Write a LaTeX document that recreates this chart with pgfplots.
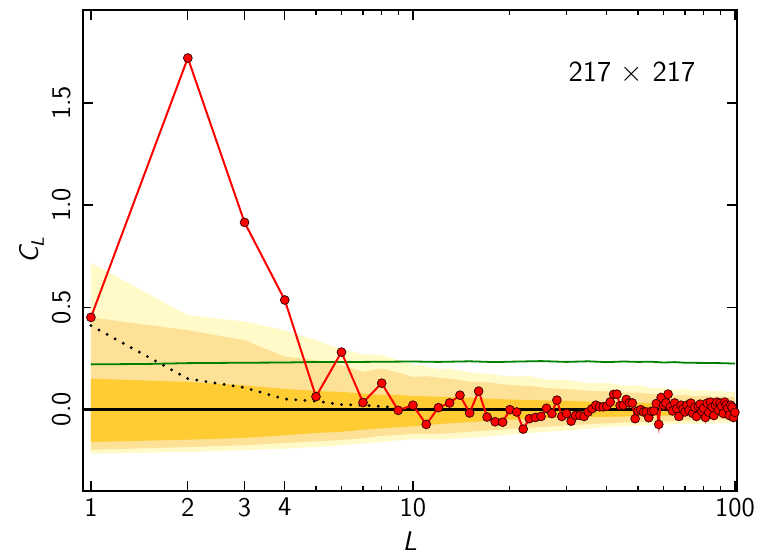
\documentclass[border=0pt]{standalone}
\usepackage{pgfplots}
\pgfplotsset{compat=1.18}
\definecolor{bandL}{RGB}{255,250,200}
\definecolor{bandM}{RGB}{253,225,150}
\definecolor{bandD}{RGB}{255,204,51}
\definecolor{gline}{RGB}{0,128,0}
\begin{document}
\begin{tikzpicture}
\path[use as bounding box] (-41.5pt,-32pt) rectangle (341pt,245.5pt);
\begin{axis}[
  xmode=log, scale only axis, width=327pt, height=240.5pt,
  xmin=0.945, xmax=101.5, ymin=-0.40, ymax=1.955,
  axis line style={line width=1.25pt},
  tick style={black, line width=0.6pt},
  major tick length=5pt, minor tick length=2.5pt, tick align=inside,
  xtick={1,2,3,4,10,100}, xticklabels={1,2,3,4,10,100},
  minor xtick={5,6,7,8,9,20,30,40,50,60,70,80,90},
  ytick={0,0.5,1,1.5}, yticklabels={0.0,0.5,1.0,1.5},
  /pgf/number format/assume math mode=true,
  tick label style={font=\fontsize{13.5}{15}\selectfont\sffamily},
  yticklabel style={xshift=-2.5pt, rotate=90, anchor=south},
  xlabel={\fontsize{13.5}{15}\selectfont\sffamily\itshape L},
  ylabel={\fontsize{13.5}{15}\selectfont\sffamily\itshape C\raisebox{-0.45ex}{\fontsize{9}{10}\selectfont L}},
  xlabel style={at={(axis description cs:0.5,0)}, anchor=north, yshift=-17pt},
  ylabel style={at={(axis description cs:0,0.5)}, anchor=south, rotate=0, yshift=16pt},
  clip=true,
]
% 3-sigma band
\addplot[fill=bandL, draw=none] coordinates {
(1,0.717)(2,0.46)(3,0.43)(4,0.387)(5,0.338)(6,0.294)(7,0.27)(8,0.265)(9,0.24)(10,0.22)
(11,0.21)(12,0.197)(13,0.2)(15,0.18)(17,0.175)(20,0.16)(23,0.162)(26,0.145)(30,0.145)
(35,0.128)(40,0.13)(45,0.115)(50,0.118)(55,0.104)(60,0.106)(65,0.095)(70,0.1)(75,0.09)
(80,0.095)(85,0.088)(90,0.092)(95,0.084)(100,0.088)
(100,-0.064)(90,-0.068)(80,-0.07)(70,-0.072)(60,-0.074)(50,-0.08)(40,-0.087)(30,-0.104)
(25,-0.112)(20,-0.124)(15,-0.14)(12,-0.148)(10,-0.146)(9,-0.152)(8,-0.16)(7,-0.168)
(6,-0.176)(5,-0.185)(4,-0.193)(3,-0.2)(2,-0.209)(1,-0.217)};
% 2-sigma band
\addplot[fill=bandM, draw=none] coordinates {
(1,0.45)(2,0.387)(3,0.338)(4,0.258)(5,0.24)(6,0.216)(7,0.183)(8,0.2)(9,0.18)(10,0.158)
(11,0.162)(12,0.155)(13,0.15)(15,0.135)(17,0.132)(20,0.119)(23,0.114)(26,0.104)(30,0.099)
(35,0.09)(40,0.088)(45,0.081)(50,0.082)(55,0.075)(60,0.076)(65,0.069)(70,0.07)(75,0.065)
(80,0.067)(85,0.062)(90,0.064)(95,0.06)(100,0.061)
(100,-0.048)(90,-0.05)(80,-0.053)(70,-0.055)(60,-0.058)(50,-0.062)(40,-0.068)(30,-0.079)
(25,-0.087)(20,-0.096)(15,-0.11)(12,-0.12)(10,-0.12)(9,-0.126)(8,-0.13)(7,-0.142)
(6,-0.15)(5,-0.157)(4,-0.165)(3,-0.176)(2,-0.185)(1,-0.198)};
% 1-sigma band
\addplot[fill=bandD, draw=none] coordinates {
(1,0.15)(2,0.134)(3,0.117)(4,0.10)(5,0.09)(6,0.085)(7,0.077)(8,0.07)(9,0.07)(10,0.065)
(12,0.062)(15,0.056)(20,0.048)(25,0.044)(30,0.041)(40,0.035)(50,0.032)(60,0.029)(80,0.027)(100,0.025)
(100,-0.025)(80,-0.028)(60,-0.031)(50,-0.034)(40,-0.037)(30,-0.041)(25,-0.045)(20,-0.051)
(15,-0.063)(12,-0.072)(10,-0.083)(9,-0.088)(8,-0.093)(7,-0.10)(6,-0.11)(5,-0.116)
(4,-0.127)(3,-0.14)(2,-0.149)(1,-0.16)};
% green line
\addplot[gline, line width=0.9pt] coordinates {
(1,0.22)(1.5,0.222)(2,0.226)(3,0.228)(4,0.229)(5,0.232)(7,0.232)(10,0.234)(12,0.232)
(15,0.235)(18,0.231)(20,0.233)(25,0.236)(30,0.232)(35,0.235)(40,0.231)(45,0.234)(50,0.232)
(55,0.233)(60,0.229)(65,0.231)(70,0.228)(80,0.227)(90,0.226)(100,0.224)};
% zero line
\addplot[black, line width=1.3pt] coordinates {(0.945,0)(101.5,0)};
% dotted theory line
\addplot[black, line width=1.6pt, line cap=round, dash pattern=on 0pt off 4.6pt] coordinates {
(1,0.41)(2,0.15)(3,0.106)(4,0.05)(5,0.04)(6,0.023)(7,0.02)(8,0.014)(9,0.008)(10,0.003)};
% data
\addplot[red, line width=1pt, mark=*, mark size=2.2pt,
  mark options={fill=red, draw=black!75!red, line width=0.4pt}] coordinates {
(1,0.45)(2,1.72)(3,0.915)(4,0.535)(5,0.062)(6,0.28)(7,0.033)(8,0.128)(9,-0.005)(10,0.02)
(11,-0.074)(12,0.008)(13,0.031)(14,0.069)(15,-0.018)(16,0.089)(17,-0.038)(18,-0.061)(19,-0.063)(20,-0.002)
(21,-0.013)(22,-0.097)(23,-0.046)(24,-0.04)(25,-0.035)(26,0.005)(27,-0.021)(28,0.045)(29,-0.035)(30,-0.021)
(31,-0.058)(32,-0.03)(33,-0.03)(34,-0.035)(35,-0.013)(36,0.003)(37,0.02)(38,0.012)(39,0.012)(40,0.015)
(41,0.036)(42,0.073)(43,0.074)(44,0.018)(45,0.02)(46,0.048)(47,0.031)(48,0.031)(49,-0.046)(50,-0.008)
(51,-0.002)(52,-0.013)(53,-0.013)(54,-0.041)(55,-0.01)(56,-0.008)(57,0.028)(58,-0.074)(59,0.058)(60,0.02)
(61,0.031)(62,0.074)(63,0.012)(64,-0.008)(65,0.031)(66,0.003)(67,-0.035)(68,0.02)(69,0.003)(70,-0.013)
(71,0.02)(72,-0.005)(73,0.03)(74,-0.02)(75,0.01)(76,-0.035)(77,0.015)(78,0.025)(79,-0.01)(80,0.005)
(81,-0.04)(82,0.03)(83,-0.015)(84,0.035)(85,0.01)(86,-0.03)(87,0.02)(88,0.035)(89,-0.005)(90,0.03)
(91,0.015)(92,-0.02)(93,0.035)(94,0.02)(95,0.005)(96,-0.03)(97,0.02)(98,0.01)(99,-0.04)(100,-0.015)};
\node[font=\fontsize{14.5}{17}\selectfont\sffamily] at (axis cs:47.9,1.647) {217 $\times$ 217};
\end{axis}
\end{tikzpicture}
\end{document}
